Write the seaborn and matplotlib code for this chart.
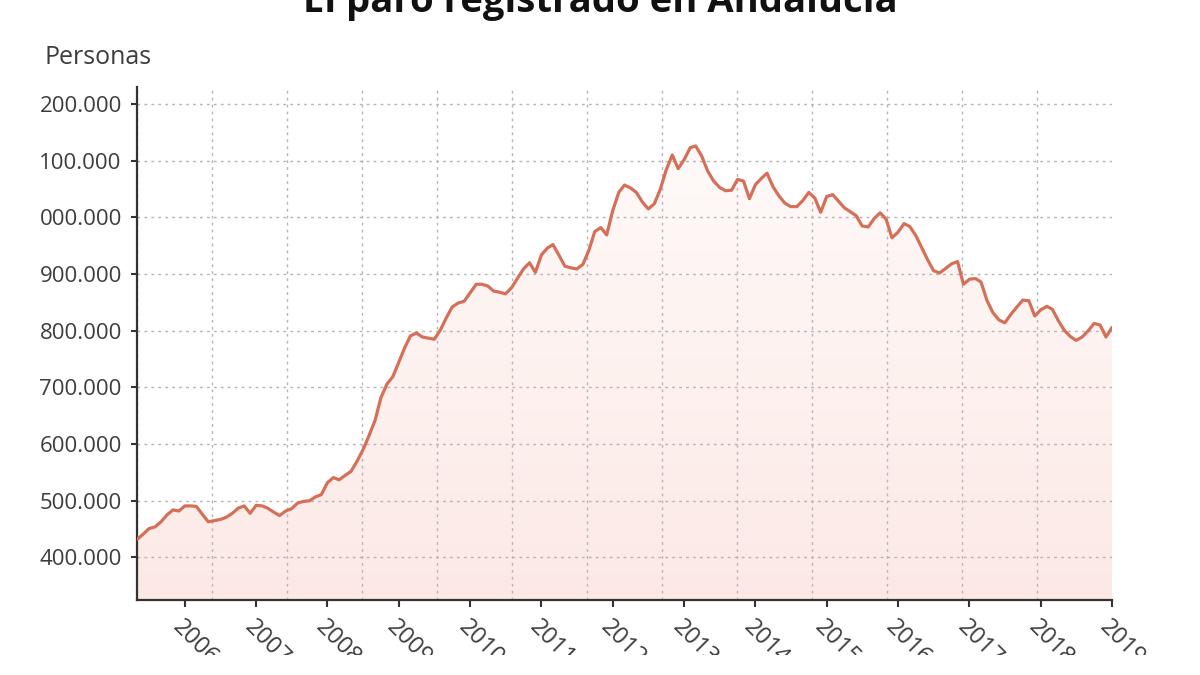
import numpy as np
import pandas as pd
import matplotlib.pyplot as plt
from matplotlib.colors import LinearSegmentedColormap
from matplotlib.patches import Rectangle
import seaborn as sns

# paro registrado en Andalucía, miles de personas, mensual (mayo 2005 - enero 2019)
paro_2005 = [432, 441, 451, 454, 463, 475, 484, 482]
paro_2006 = [491, 491, 490, 476, 463, 465, 467, 471, 478, 487, 491, 478]
paro_2007 = [492, 491, 487, 480, 474, 482, 486, 496, 499, 500, 507, 511]
paro_2008 = [532, 541, 537, 545, 552, 570, 590, 615, 642, 682, 706, 719]
paro_2009 = [745, 771, 791, 796, 789, 787, 785, 801, 823, 842, 849, 852]
paro_2010 = [867, 882, 882, 879, 870, 868, 865, 876, 893, 909, 920, 903]
paro_2011 = [934, 946, 952, 933, 914, 911, 909, 917, 942, 975, 982, 969]
paro_2012 = [1012, 1044, 1057, 1052, 1044, 1027, 1015, 1024, 1050, 1084, 1110, 1086]
paro_2013 = [1102, 1123, 1126, 1108, 1082, 1064, 1053, 1047, 1048, 1067, 1064, 1033]
paro_2014 = [1058, 1069, 1078, 1054, 1038, 1025, 1019, 1019, 1030, 1044, 1034, 1009]
paro_2015 = [1037, 1040, 1029, 1017, 1010, 1003, 985, 983, 998, 1008, 997, 964]
paro_2016 = [974, 989, 984, 968, 947, 925, 906, 902, 910, 918, 922, 882]
paro_2017 = [891, 892, 886, 853, 832, 819, 814, 829, 842, 854, 853, 826]
paro_2018 = [837, 843, 838, 818, 801, 790, 783, 789, 800, 813, 810, 789]
paro_2019 = [806]

years = list(range(2006, 2020))
ytick_values = [400, 500, 600, 700, 800, 900, 1000, 1100, 1200]
ytick_labels = ["400.000", "500.000", "600.000", "700.000", "800.000",
                "900.000", "000.000", "100.000", "200.000"]

paro = (paro_2005 + paro_2006 + paro_2007 + paro_2008 + paro_2009 + paro_2010
        + paro_2011 + paro_2012 + paro_2013 + paro_2014 + paro_2015 + paro_2016
        + paro_2017 + paro_2018 + paro_2019)
df = pd.DataFrame({"fecha": pd.date_range("2005-05-01", periods=len(paro), freq="MS"),
                   "paro": paro})

sns.set_theme(style="white")
plt.rcParams['font.family'] = ['Open Sans', 'DejaVu Sans']

line_color = "#d66f58"
text_color = "#3d3d3d"

fig = plt.figure(figsize=(12, 6.75), dpi=100)
ax = fig.add_axes([0.1142, 0.1111, 0.8125, 0.76])

x0 = df["fecha"].iloc[0]
x1 = df["fecha"].iloc[-1]
ymin, ymax = 325, 1230

# degradado bajo la curva
cmap = LinearSegmentedColormap.from_list("rosa", ["#fce9e5", "#fffcfb"])
grad = np.linspace(0, 1, 256).reshape(-1, 1)
im = ax.imshow(grad, extent=[pd.Timestamp(x0), pd.Timestamp(x1), ymin, ymax],
               origin="lower", aspect="auto", cmap=cmap, zorder=0)
poly = ax.fill_between(df["fecha"], df["paro"], ymin, facecolor="none", edgecolor="none")
im.set_clip_path(poly.get_paths()[0], transform=ax.transData)

sns.lineplot(ax=ax, data=df, x="fecha", y="paro", color=line_color, linewidth=2.3, zorder=3)

ax.set_xlim(x0, x1)
ax.set_ylim(ymin, ymax)

ax.set_yticks(ytick_values)
ax.set_yticklabels(ytick_labels)
ax.set_xticks([pd.Timestamp(f"{y}-01-01") for y in years])
ax.set_xticklabels([str(y) for y in years], rotation=-45, ha="left", va="top",
                   rotation_mode="anchor")

# rejilla vertical en divisiones iguales
xl = ax.get_xlim()
ax.set_xticks(np.linspace(xl[0], xl[1], 14), minor=True)
ax.grid(False)
ax.yaxis.grid(True, which="major", linestyle=(0, (2, 3)), color="#b5b5b5", linewidth=1)
ax.xaxis.grid(True, which="minor", linestyle=(0, (2, 3)), color="#b5b5b5", linewidth=1)
ax.set_axisbelow(True)

ax.tick_params(axis="y", which="major", length=4, width=1.5, color="#333333",
               labelsize=16, labelcolor=text_color, pad=7, left=True)
ax.tick_params(axis="x", which="major", length=5, width=1.5, color="#333333",
               labelsize=17, labelcolor=text_color, pad=6, bottom=True)
ax.tick_params(axis="x", which="minor", length=0)

for side in ["top", "right"]:
    ax.spines[side].set_visible(False)
for side in ["left", "bottom"]:
    ax.spines[side].set_color("#333333")
    ax.spines[side].set_linewidth(1.6)

ax.set_xlabel("")
ax.set_ylabel("")

fig.text(0.0367, 1 - 57 / 675, "Personas", ha="left", va="center",
         fontsize=18, color=text_color)
fig.text(0.5, 1 - 12 / 675, "El paro registrado en Andalucía", ha="center",
         va="baseline", fontsize=27.5, fontweight="bold", color="#111111")

# el gráfico original está recortado por abajo
fig.add_artist(Rectangle((0, 0), 1, 20 / 675, transform=fig.transFigure,
                         facecolor="white", edgecolor="none", zorder=100))

fig.savefig("out.png", dpi=100)
